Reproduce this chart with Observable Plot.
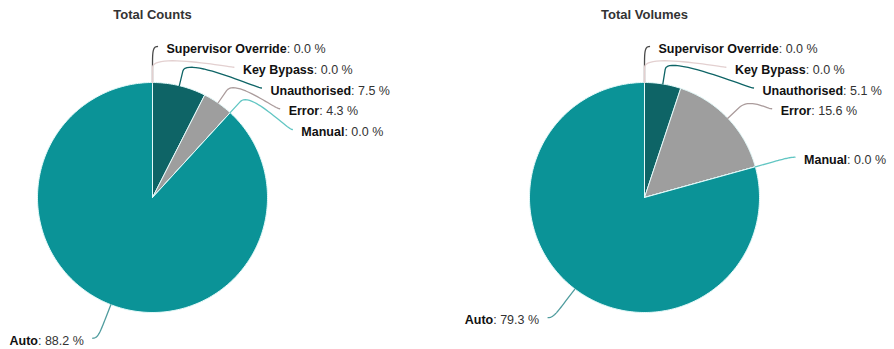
<!DOCTYPE html>
<html>
<head>
<meta charset="utf-8">
<script src="https://cdn.jsdelivr.net/npm/d3@7"></script>
<script src="https://cdn.jsdelivr.net/npm/@observablehq/plot@0.6"></script>
<style>
  html, body { margin: 0; padding: 0; background: #ffffff; }
  #chart svg { display: block; }
</style>
</head>
<body>
<div id="chart"></div>
<script>
// ---- data ----
const categories = ["Supervisor Override", "Key Bypass", "Unauthorised", "Error", "Manual", "Auto"];
const countsPct = [0.0, 0.0, 7.5, 4.3, 0.0, 88.2];
const volumesPct = [0.0, 0.0, 5.1, 15.6, 0.0, 79.3];
const chartTitles = ["Total Counts", "Total Volumes"];
const sliceColors = ["#4a4a4a", "#e6d3d3", "#0e6466", "#9e9e9e", "#74cfcc", "#0b9397"];
const connectorColors = ["#4a4a4a", "#e3d0d0", "#0e6466", "#ab9c9c", "#62c6c3", "#4f9c9e"];

// ---- layout ----
const W = 894, H = 349;
const pieCx = [152, 644], pieCy = 197, pieR = 115;
const breakOff = 15, labelR = 151, labelGap = 14, connGap = 5, labelStep = 20.75;
const fontFamily = '"Liberation Sans", Arial, Helvetica, sans-serif';
const labelSize = 12.5;

const ctx = document.createElement("canvas").getContext("2d");
function textW(s, bold) {
  ctx.font = (bold ? "bold " : "") + labelSize + "px " + fontFamily;
  return ctx.measureText(s).width;
}

const slices = [], conns = [], nameLabels = [], valueLabels = [], titles = [];

[countsPct, volumesPct].forEach((vals, k) => {
  const cx = pieCx[k];
  titles.push({x: cx, y: 14, text: chartTitles[k]});
  const total = d3.sum(vals);
  let acc = 0;
  const items = vals.map((v, i) => {
    const a0 = acc / total * 2 * Math.PI; acc += v;
    const a1 = acc / total * 2 * Math.PI;
    return {i, v, a0, a1, mid: (a0 + a1) / 2};
  });
  // slices as closed polygons
  items.forEach(it => {
    const key = k + "-" + it.i, color = sliceColors[it.i];
    const n = Math.max(1, Math.ceil((it.a1 - it.a0) / (Math.PI / 180)));
    slices.push({key, x: cx, y: pieCy, color});
    for (let j = 0; j <= n; j++) {
      const a = it.a0 + (it.a1 - it.a0) * j / n;
      slices.push({key, x: cx + pieR * Math.sin(a), y: pieCy - pieR * Math.cos(a), color});
    }
    slices.push({key, x: cx, y: pieCy, color});
  });
  // label placement
  const right = items.filter(d => d.mid < Math.PI);
  const left = items.filter(d => d.mid >= Math.PI);
  let prev = -Infinity;
  right.forEach(d => {
    let y = pieCy - labelR * Math.cos(d.mid);
    y = Math.max(y, prev + labelStep); prev = y;
    d.ly = y; d.side = 1;
  });
  let prevL = Infinity;
  left.forEach(d => {
    let y = pieCy - labelR * Math.cos(d.mid);
    y = Math.min(y, prevL - labelStep); prevL = y;
    d.ly = y; d.side = -1;
  });
  items.forEach(d => {
    const dy = d.ly - pieCy;
    const dx = Math.sqrt(Math.max(0, labelR * labelR - dy * dy));
    const name = categories[d.i];
    const val = ": " + d.v.toFixed(1) + " %";
    const wn = textW(name, true), wv = textW(val, false);
    let start;
    if (d.side > 0) start = cx + dx + labelGap;
    else start = cx - dx - labelGap - wn - wv;
    const ty = d.ly + 2.5;
    nameLabels.push({x: start, y: ty, text: name});
    valueLabels.push({x: start + wn, y: ty, text: val});
    // connector: label end -> soft cubic curve -> break point -> slice edge
    const E = [cx + pieR * Math.sin(d.mid), pieCy - pieR * Math.cos(d.mid)];
    const B = [cx + (pieR + breakOff) * Math.sin(d.mid), pieCy - (pieR + breakOff) * Math.cos(d.mid)];
    const T = [cx + d.side * (dx + connGap), d.ly];
    const C1 = [T[0] - d.side * 5, T[1]];
    const C2 = [2 * B[0] - E[0], 2 * B[1] - E[1]];
    const key = "c" + k + "-" + d.i, color = connectorColors[d.i];
    for (let j = 0; j <= 24; j++) {
      const t = j / 24, u = 1 - t;
      conns.push({key, color,
        x: u*u*u*T[0] + 3*u*u*t*C1[0] + 3*u*t*t*C2[0] + t*t*t*B[0],
        y: u*u*u*T[1] + 3*u*u*t*C1[1] + 3*u*t*t*C2[1] + t*t*t*B[1]});
    }
    conns.push({key, x: E[0], y: E[1], color});
  });
});

const chart = Plot.plot({
  width: W, height: H,
  marginTop: 0, marginRight: 0, marginBottom: 0, marginLeft: 0,
  x: {domain: [0, W], range: [0, W], axis: null},
  y: {domain: [0, H], range: [0, H], axis: null},
  color: {type: "identity"},
  style: {fontFamily, background: "#ffffff", overflow: "visible"},
  marks: [
    Plot.line(slices, {x: "x", y: "y", z: "key", fill: "color", stroke: "#e4fafa", strokeWidth: 1, strokeLinejoin: "round"}),
    Plot.line(conns, {x: "x", y: "y", z: "key", stroke: "color", strokeWidth: 1.3, fill: "none"}),
    Plot.text(titles, {x: "x", y: "y", text: "text", fontSize: 13, fontWeight: "bold", fill: "#333333", textAnchor: "middle"}),
    Plot.text(nameLabels, {x: "x", y: "y", text: "text", fontSize: labelSize, fontWeight: "bold", fill: "#111111", textAnchor: "start"}),
    Plot.text(valueLabels, {x: "x", y: "y", text: "text", fontSize: labelSize, fill: "#333333", textAnchor: "start"})
  ]
});
document.getElementById("chart").appendChild(chart);
</script>
</body>
</html>
